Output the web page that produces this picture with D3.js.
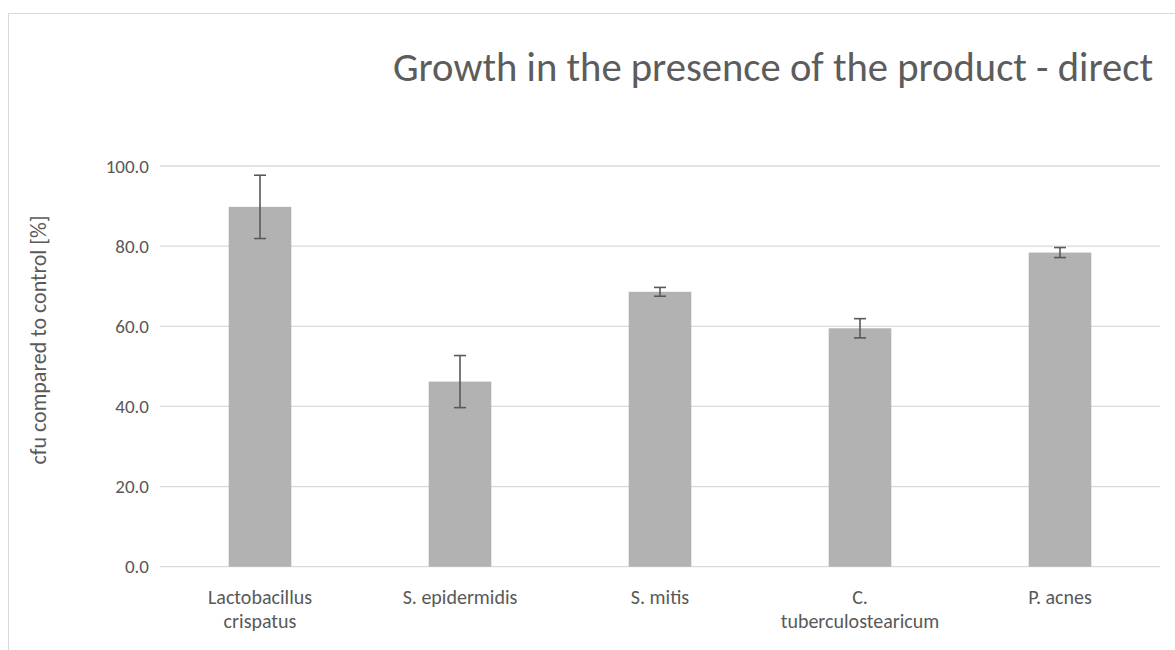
<!DOCTYPE html>
<html>
<head>
<meta charset="utf-8">
<script src="https://cdn.jsdelivr.net/npm/d3@7"></script>
<style>
  body { margin: 0; background: #fff; }
  svg { display: block; }
  text { font-family: Carlito, Lato, "Open Sans", sans-serif; fill: #595959; }
</style>
</head>
<body>
<svg width="1175" height="650"></svg>
<script>
// data
const categories = [["Lactobacillus", "crispatus"], ["S. epidermidis"], ["S. mitis"], ["C.", "tuberculostearicum"], ["P. acnes"]];
const values = [89.8, 46.2, 68.6, 59.5, 78.4];
const errors = [7.9, 6.5, 1.1, 2.4, 1.25];
const yTicks = [0, 20, 40, 60, 80, 100];

const titleText = "Growth in the presence of the product - direct";
const yTitle = "cfu compared to control [%]";

var svg = d3.select("svg"),
    plotLeft = 160, plotRight = 1160, plotTop = 166, plotBottom = 566.7;

// outer chart frame (cut off at right / bottom like the screenshot)
svg.append("rect")
    .attr("x", 8.5).attr("y", 13.5)
    .attr("width", 1300).attr("height", 800)
    .attr("fill", "none").attr("stroke", "#d9d9d9");

var x = d3.scaleBand()
    .domain(d3.range(values.length))
    .range([plotLeft, plotRight])
    .paddingInner(0.687)
    .paddingOuter(0.3435);

var y = d3.scaleLinear().domain([0, 100]).range([plotBottom, plotTop]);

// gridlines
svg.append("g")
    .selectAll("line")
    .data(yTicks)
    .enter().append("line")
    .attr("x1", plotLeft).attr("x2", plotRight)
    .attr("y1", function (d) { return y(d); })
    .attr("y2", function (d) { return y(d); })
    .attr("stroke", "#d9d9d9")
    .attr("stroke-width", 1.3);

// y tick labels
svg.append("g")
    .selectAll("text")
    .data(yTicks)
    .enter().append("text")
    .attr("x", 149)
    .attr("y", function (d) { return y(d); })
    .attr("dy", "0.35em")
    .attr("text-anchor", "end")
    .style("font-size", "19px")
    .text(function (d) { return d3.format(".1f")(d); });

// bars
svg.append("g")
    .selectAll("rect")
    .data(values)
    .enter().append("rect")
    .attr("x", function (d, i) { return x(i); })
    .attr("y", function (d) { return y(d); })
    .attr("width", x.bandwidth())
    .attr("height", function (d) { return y(0) - y(d); })
    .attr("fill", "#b2b2b2");

// error bars
var eb = svg.append("g")
    .attr("stroke", "#595959")
    .attr("stroke-width", 1.6)
    .selectAll("g")
    .data(values)
    .enter().append("g");

eb.append("line")
    .attr("x1", function (d, i) { return x(i) + x.bandwidth() / 2; })
    .attr("x2", function (d, i) { return x(i) + x.bandwidth() / 2; })
    .attr("y1", function (d, i) { return y(d + errors[i]); })
    .attr("y2", function (d, i) { return y(d - errors[i]); });

[1, -1].forEach(function (s) {
    eb.append("line")
        .attr("x1", function (d, i) { return x(i) + x.bandwidth() / 2 - 6; })
        .attr("x2", function (d, i) { return x(i) + x.bandwidth() / 2 + 6; })
        .attr("y1", function (d, i) { return y(d + s * errors[i]); })
        .attr("y2", function (d, i) { return y(d + s * errors[i]); });
});

// category labels
var cat = svg.append("g")
    .selectAll("text")
    .data(categories)
    .enter().append("text")
    .attr("text-anchor", "middle")
    .style("font-size", "20px")
    .attr("x", function (d, i) { return x(i) + x.bandwidth() / 2; })
    .attr("y", 604);

cat.selectAll("tspan")
    .data(function (d) { return d; })
    .enter().append("tspan")
    .attr("x", function () { return d3.select(this.parentNode).attr("x"); })
    .attr("dy", function (d, j) { return j ? 24 : 0; })
    .text(function (d) { return d; });

// y axis title
svg.append("text")
    .attr("transform", "translate(46,340) rotate(-90)")
    .attr("text-anchor", "middle")
    .style("font-size", "22px")
    .text(yTitle);

// chart title, squeezed to the width it has in the picture
svg.append("text")
    .attr("x", 393)
    .attr("y", 81)
    .style("font-size", "40px")
    .style("fill", "#5c5c5c")
    .attr("textLength", 760)
    .attr("lengthAdjust", "spacingAndGlyphs")
    .text(titleText);
</script>
</body>
</html>
